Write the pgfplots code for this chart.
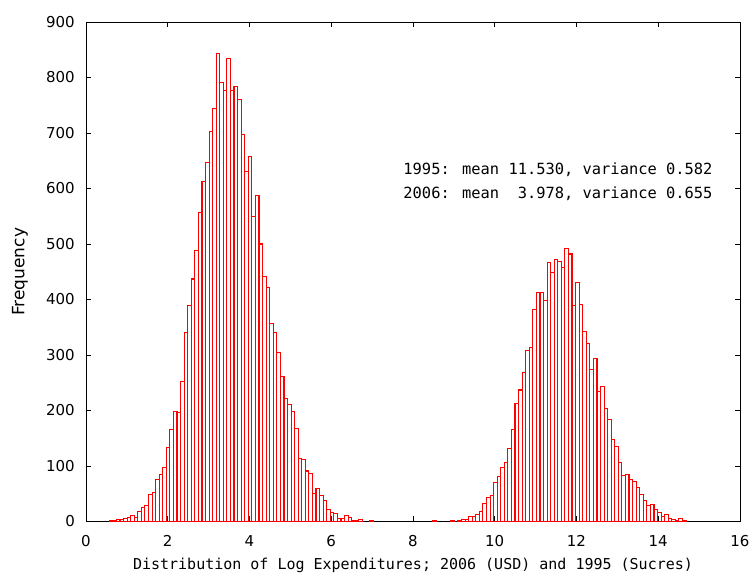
\documentclass[border=0pt]{standalone}
\usepackage{fontspec}
\setmainfont{DejaVu Sans}
\newfontfamily\monofont{DejaVu Sans Mono}
\usepackage{pgfplots}
\pgfplotsset{compat=1.18}
\usepackage{pgfplotstable}

% 2006 (USD): left edge of each bin and its count
\pgfplotstableread{
x y
0.570 2
0.657 2
0.744 3
0.832 4
0.919 6
1.006 8
1.093 10
1.180 7
1.268 18
1.355 25
1.442 29
1.529 49
1.616 53
1.704 76
1.791 85
1.878 98
1.965 133
2.052 165
2.140 198
2.227 196
2.314 253
2.401 340
2.488 389
2.576 437
2.663 489
2.750 557
2.837 612
2.924 647
3.012 703
3.099 744
3.186 844
3.273 791
3.360 776
3.448 835
3.535 776
3.622 783
3.709 760
3.796 697
3.884 630
3.971 658
4.058 549
4.145 588
4.232 500
4.320 441
4.407 422
4.494 357
4.581 341
4.668 305
4.756 261
4.843 222
4.930 211
5.017 198
5.104 168
5.192 113
5.279 111
5.366 91
5.453 86
5.540 51
5.628 59
5.715 47
5.802 38
5.889 21
5.976 17
6.064 14
6.151 6
6.238 6
6.325 10
6.412 8
6.500 1
6.587 1
6.674 4
6.936 2
}\tabA

% 1995 (Sucres)
\pgfplotstableread{
x y
8.490 2
8.926 2
9.100 2
9.187 3
9.274 3
9.362 9
9.449 9
9.536 13
9.623 18
9.710 33
9.798 44
9.885 47
9.972 70
10.059 81
10.146 98
10.234 107
10.321 131
10.408 166
10.495 213
10.582 237
10.670 269
10.757 308
10.844 313
10.931 382
11.018 413
11.106 413
11.193 398
11.280 467
11.367 448
11.454 472
11.542 469
11.629 458
11.716 492
11.803 482
11.890 389
11.978 430
12.065 391
12.152 343
12.239 320
12.326 274
12.414 293
12.501 234
12.588 244
12.675 204
12.762 183
12.850 148
12.937 135
13.024 106
13.111 83
13.198 84
13.286 75
13.373 72
13.460 62
13.547 49
13.634 38
13.722 29
13.809 31
13.896 21
13.983 17
14.070 9
14.158 12
14.245 6
14.332 3
14.419 2
14.506 6
14.594 1
}\tabB

\begin{document}
\begin{tikzpicture}
\begin{axis}[
    scale only axis,
    width=654pt, height=499.5pt,
    xmin=0, xmax=16, ymin=0, ymax=900,
    xtick={0,2,...,16},
    ytick={0,100,...,900},
    tick align=inside,
    major tick length=5pt,
    axis line style={black, line width=0.8pt},
    tick style={black, line width=0.8pt},
    font=\fontsize{15}{18}\selectfont,
    /pgf/number format/assume math mode=true,
    xticklabel style={anchor=center, yshift=-19.5pt},
    yticklabel style={anchor=east, inner sep=0pt, xshift=-11pt},
    xlabel={\monofont Distribution of Log Expenditures; 2006 (USD) and 1995 (Sucres)},
    ylabel={Frequency},
    every axis x label/.style={at={(axis description cs:0.5,0)}, anchor=center, yshift=-43.5pt},
    every axis y label/.style={at={([xshift=-66pt]axis description cs:0,0.5)}, anchor=center, rotate=90, font=\fontsize{17}{20}\selectfont},
    hist/.style={ybar, bar width=0.0872, bar shift=0.0436, draw={rgb,255:red,255;green,0;blue,0}, fill=none, line width=1.1pt},
]
\addplot[hist] table[x=x, y=y] {\tabA};
\addplot[hist] table[x=x, y=y] {\tabB};

\node[anchor=west, font=\monofont\fontsize{15.4}{18}\selectfont] at (axis cs:7.68,634) {1995: mean 11.530, variance 0.582};
\node[anchor=west, font=\monofont\fontsize{15.4}{18}\selectfont] at (axis cs:7.68,591) {2006: mean\ \ 3.978, variance 0.655};
\end{axis}
\path ([xshift=-86pt, yshift=-57.5pt]current axis.south west) rectangle ([xshift=13pt, yshift=22pt]current axis.north east);
\end{tikzpicture}
\end{document}
